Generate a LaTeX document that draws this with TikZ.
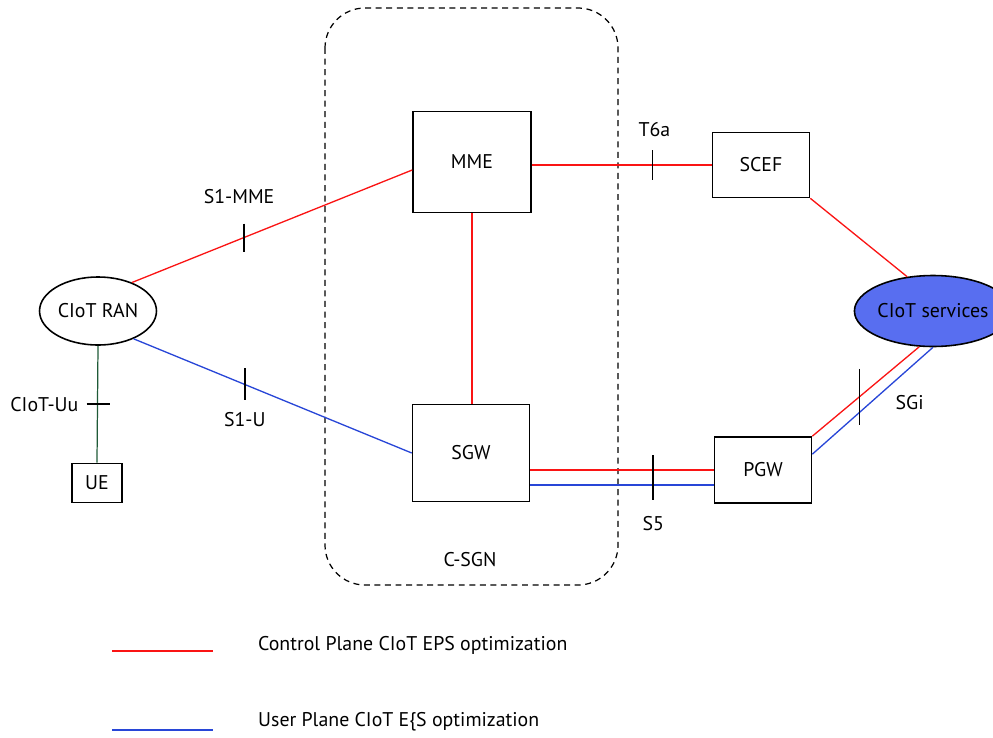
\documentclass[tikz,border=0pt]{standalone}
\usepackage{fontspec}
\setmainfont{PT Sans}
\usetikzlibrary{calc,shapes.geometric}
\definecolor{cpred}{RGB}{250,20,20}
\definecolor{upblue}{RGB}{40,70,215}
\definecolor{uugreen}{RGB}{30,90,55}
\definecolor{svcblue}{RGB}{88,110,240}
\tikzset{
	entity/.style={draw, line width=0.9pt, minimum width=1.94cm, minimum height=1.3cm},
	cp/.style={cpred, line width=0.75pt},
	up/.style={upblue, line width=0.75pt},
	refpt/.style={draw, line width=0.9pt},
}
\begin{document}
\begin{tikzpicture}[x=0.02cm, y=-0.02cm, font=\fontsize{11.3}{13}\selectfont]
		\useasboundingbox (0,0) rectangle (993,737);
		\path[draw, line width=0.7pt, dash pattern=on 3.4pt off 2.6pt, rounded corners=0.8cm] (325,8) rectangle (618,585);
		\node at (470,560) {C-SGN};
		\node[entity, minimum width=2.36cm, minimum height=2.02cm] (mme) at (472,162) {MME};
		\node[entity, minimum width=2.34cm, minimum height=1.94cm] (sgw) at (471,453) {SGW};
		\node[entity] (scef) at (761,165) {SCEF};
		\node[entity, minimum height=1.32cm] (pgw) at (763,470) {PGW};
		\node[entity, minimum width=1cm, minimum height=0.78cm] (ue) at (97,483) {UE};
		\node[draw, ellipse, line width=0.9pt, minimum width=2.34cm, minimum height=1.36cm, inner sep=0pt] (ran) at (98,311) {CIoT RAN};
		\node[draw, ellipse, line width=0.9pt, fill=svcblue, minimum width=2.34cm, minimum height=1.42cm, inner sep=0pt] (svc) at (933,311) {CIoT services};
		% interfaces
		\path[draw, cp] (ran.40) -- coordinate[pos=0.4] (s1mme) ($(mme.west)+(0,8)$);
		\path[draw, up] (ran.-38) -- coordinate[pos=0.4] (s1u) (sgw.west);
		\path[draw, uugreen, line width=0.7pt] (ran.south) -- coordinate[pos=0.5] (uu) (ue.north);
		\path[draw, cp] (mme.south) -- (sgw.north -| mme.south);
		\path[draw, cp] ($(mme.east)+(0,3)$) -- coordinate[pos=0.67] (t6a) (scef.west);
		\path[draw, cp] (scef.south east) -- (svc.127);
		\path[draw, cp] (sgw.east |- pgw.west) -- coordinate[pos=0.67] (s5) (pgw.west);
		\path[draw, up] ($(sgw.east |- pgw.west)+(0,15)$) -- ($(pgw.west)+(0,15)$);
		\path[draw, cp] (pgw.north east) -- coordinate[pos=0.44] (sgi) (svc.-111);
		\path[draw, up] ($(pgw.north east)+(0,18)$) -- (svc.south);
		% reference point ticks
		\path[draw, refpt] (s1mme) ++(0,-14) -- ++(0,28);
		\node at ($(s1mme)+(-5,-41)$) {S1-MME};
		\path[draw, refpt] (s1u) ++(0,-16) -- ++(0,32) node[anchor=north, yshift=-0.1cm] {S1-U};
		\path[draw, refpt] (uu) ++(-11,0) -- ++(23,0);
		\node[anchor=east] at ($(uu)+(-13,0)$) {CIoT-Uu};
		\path[draw, refpt] (t6a) ++(0,-15) -- ++(0,30);
		\node at ($(t6a)+(2,-35)$) {T6a};
		\path[draw, refpt] (s5) ++(0,-15) -- ++(0,45) node[anchor=north, yshift=-0.2cm] {S5};
		\path[draw, refpt] (sgi) ++(0,-28) -- ++(0,56);
		\node[anchor=west] at ($(sgi)+(30,6)$) {SGi};
		% legend
		\coordinate (cpa) at (112,651);
		\coordinate (cpb) at (213,651);
		\coordinate (upa) at (112,730);
		\coordinate (upb) at (213,730);
		\path[draw, cp, line width=0.9pt] (cpa) -- (cpb);
		\path[draw, up, line width=0.9pt] (upa) -- (upb);
		\node[anchor=west] at (252,645) {Control Plane CIoT EPS optimization};
		\node[anchor=west] at (252,722) {User Plane CIoT E\{S optimization};
	\end{tikzpicture}
\end{document}
